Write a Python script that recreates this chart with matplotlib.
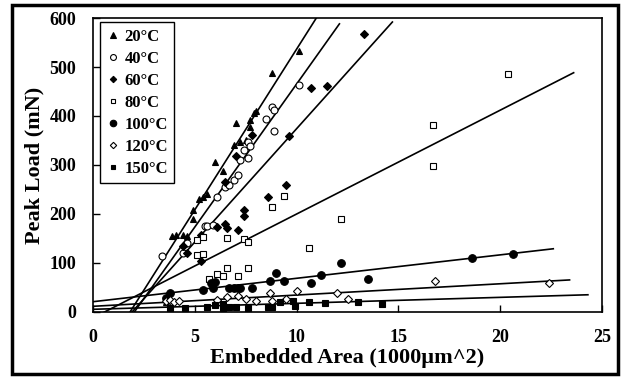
import numpy as np
import matplotlib.pyplot as plt
from matplotlib.patches import Rectangle

plt.rcParams['font.family'] = ['Liberation Serif', 'DejaVu Serif']
plt.rcParams['font.weight'] = 'bold'

# --- data ---
labels = ['20°C', '40°C', '60°C', '80°C', '100°C', '120°C', '150°C']

x20 = [3.6, 3.9, 4.1, 4.4, 4.6, 4.9, 4.9, 5.2, 5.4, 5.6, 6.0, 6.4, 6.9, 7.0, 7.2, 7.5, 7.7, 7.7, 7.9, 8.0, 8.8, 10.1]
y20 = [20, 155, 157, 157, 155, 208, 190, 231, 235, 240, 306, 288, 341, 386, 347, 350, 377, 392, 406, 410, 488, 533]

x40 = [3.4, 4.4, 4.6, 5.5, 5.6, 5.9, 6.1, 6.5, 6.7, 6.9, 7.1, 7.2, 7.4, 7.6, 7.6, 7.7, 8.5, 8.8, 8.9, 8.9, 10.1]
y40 = [114, 120, 140, 176, 176, 178, 235, 255, 259, 269, 280, 310, 331, 314, 347, 339, 394, 419, 412, 370, 463]

x60 = [4.4, 4.6, 5.3, 5.3, 6.1, 6.5, 6.5, 6.6, 7.0, 7.1, 7.4, 7.4, 7.8, 8.6, 9.5, 9.6, 10.7, 11.5, 13.3]
y60 = [135, 120, 157, 104, 173, 265, 180, 171, 318, 167, 208, 196, 361, 235, 259, 359, 457, 461, 567]

x80 = [5.1, 5.1, 5.4, 5.4, 5.7, 6.1, 6.4, 6.6, 6.6, 7.1, 7.4, 7.6, 7.6, 8.8, 9.4, 10.6, 12.2, 16.7, 16.7, 20.4]
y80 = [147, 116, 153, 118, 67, 78, 73, 151, 90, 73, 149, 143, 90, 215, 237, 131, 190, 298, 382, 486]

x100 = [3.6, 3.8, 5.4, 5.8, 5.9, 6.0, 6.7, 6.9, 7.1, 7.2, 7.8, 8.7, 9.0, 9.4, 10.7, 11.2, 12.2, 13.5, 18.6, 20.6]
y100 = [28, 39, 45, 59, 49, 61, 49, 49, 49, 49, 49, 63, 80, 63, 59, 76, 100, 67, 110, 118]

x120 = [3.6, 3.8, 4.0, 4.2, 6.1, 6.6, 7.1, 7.5, 8.0, 8.7, 8.8, 9.5, 10.0, 12.0, 12.5, 16.8, 22.4]
y120 = [22, 24, 21, 22, 24, 31, 33, 27, 22, 39, 22, 27, 43, 39, 27, 63, 59]

x150 = [3.8, 4.5, 5.6, 6.0, 6.4, 6.4, 6.7, 7.0, 7.6, 8.6, 8.8, 9.2, 9.8, 9.9, 10.6, 11.4, 13.0, 14.2]
y150 = [8, 8, 10, 14, 16, 8, 10, 10, 8, 10, 10, 20, 22, 12, 20, 18, 20, 16]

# linear trendlines (slope, intercept, end of line on x)
slopes = [65.6, 58.4, 46.3, 21.2, 4.78, 2.3, 1.22]
intercepts = [-119.4, -118.6, -88.8, -12.0, 21.0, 11.6, 5.5]
line_end = [11.2, 12.1, 14.7, 23.6, 22.6, 23.4, 24.3]

xs = [x20, x40, x60, x80, x100, x120, x150]
ys = [y20, y40, y60, y80, y100, y120, y150]

# marker style per series
markers = ['^', 'o', 'D', 's', 'o', 'D', 's']
filled = [True, False, True, False, True, False, True]
msizes = [4.5, 5, 3.8, 4.2, 5.5, 3.8, 4.2]

fig = plt.figure(figsize=(6.24, 3.79), dpi=100)
ax = fig.add_axes([0.149, 0.1768, 0.816, 0.7757])

for i in range(len(labels)):
    xl = np.array([0, line_end[i]])
    ax.plot(xl, slopes[i] * xl + intercepts[i], color='black', lw=1.2, zorder=2)
    fc = 'black' if filled[i] else 'white'
    ax.plot(xs[i], ys[i], linestyle='none', marker=markers[i], ms=msizes[i],
            mfc=fc, mec='black', mew=0.8, label=labels[i], zorder=3)

ax.set_xlim(0, 25)
ax.set_ylim(0, 600)
ax.set_xticks([0, 5, 10, 15, 20, 25])
ax.set_yticks([0, 100, 200, 300, 400, 500, 600])
ax.tick_params(direction='in', length=5, width=1, labelsize=13, pad=12)
for s in ax.spines.values():
    s.set_linewidth(1.2)

ax.set_xlabel('Embedded Area (1000µm^2)', fontsize=16, fontweight='bold', labelpad=2)
ax.set_ylabel('Peak Load (mN)', fontsize=16, fontweight='bold', labelpad=4)

leg = ax.legend(loc='upper left', bbox_to_anchor=(0.014, 0.986), borderaxespad=0,
                fancybox=False, edgecolor='black', framealpha=1, fontsize=12,
                handlelength=0.7, handletextpad=0.35, labelspacing=0.36, borderpad=0.4,
                markerscale=0.85)
leg.get_frame().set_linewidth(1)
for t in leg.get_texts():
    t.set_fontweight('bold')

# thick outer frame round the whole chart
fig.patches.append(Rectangle((0.02, 0.014), 0.971, 0.972, transform=fig.transFigure,
                             fill=False, edgecolor='black', lw=2.5))

fig.savefig('out.png', dpi=100)
